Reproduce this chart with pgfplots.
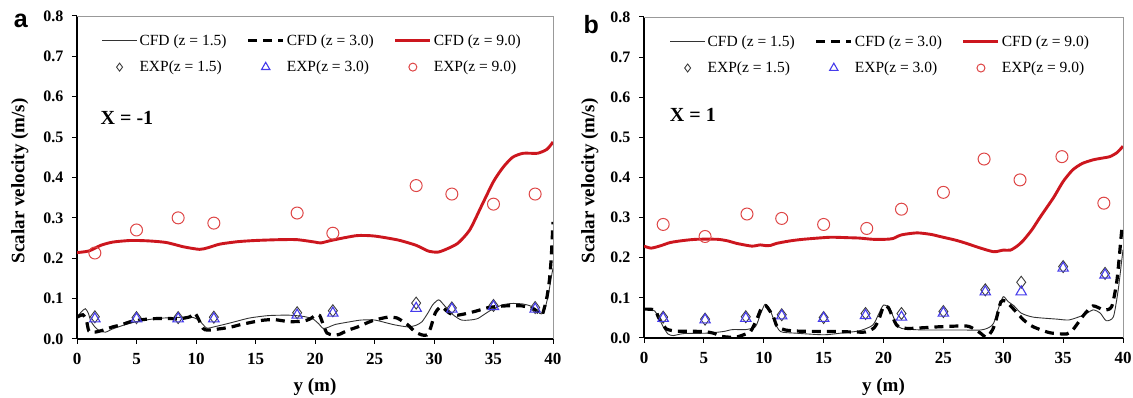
\documentclass[border=0pt]{standalone}
\usepackage{fontspec}
\setmainfont{Liberation Serif}
\newfontfamily\panelfont{Liberation Sans}
\usepackage{pgfplots}
\pgfplotsset{compat=1.18}

\definecolor{redline}{RGB}{204,22,30}
\definecolor{expred}{RGB}{222,70,70}
\definecolor{expblue}{RGB}{70,60,235}
\definecolor{expgray}{RGB}{60,60,60}

\pgfplotsset{
  velstyle/.style={
    scale only axis,
    clip mode=individual,
    xmin=0, xmax=40, ymin=0, ymax=0.8,
    xtick={0,5,10,15,20,25,30,35,40},
    xticklabels={0,5,10,15,20,25,30,35,40},
    ytick={0,0.1,0.2,0.3,0.4,0.5,0.6,0.7,0.8},
    yticklabels={0.0,0.1,0.2,0.3,0.4,0.5,0.6,0.7,0.8},
    axis x line*=bottom, axis y line*=left,
    x axis line style={-, black, line width=1.1pt},
    y axis line style={-, black, line width=1.1pt},
    tick align=outside, major tick length=5pt,
    tick style={black, line width=1pt},
    /pgf/number format/assume math mode=true,
    yticklabel style={font=\fontsize{16}{16}\selectfont\bfseries, xshift=-5pt},
    xticklabel style={font=\fontsize{17}{17}\selectfont\bfseries, yshift=-6pt},
    xlabel={y (m)},
    ylabel={Scalar velocity (m/s)},
    xlabel style={font=\fontsize{19}{19}\selectfont\bfseries, anchor=center},
    ylabel style={font=\fontsize{19}{19}\selectfont\bfseries, anchor=center},
    legend columns=3,
    legend cell align=left,
    legend style={draw=none, fill=none, anchor=north west,
      font=\fontsize{15.5}{15.5}\selectfont,
      row sep=10pt,
      /tikz/every even column/.append style={column sep=18pt}},
  },
  cfdthin/.style={black!80, line width=0.9pt, smooth, tension=0.4,
    legend image code/.code={\draw[##1] (0pt,0pt) -- (35pt,0pt);}},
  cfddash/.style={black, line width=3.2pt, dash pattern=on 9pt off 6pt, smooth, tension=0.4,
    legend image code/.code={\draw[##1] (0pt,0pt) -- (35pt,0pt);}},
  cfdnine/.style={redline, line width=2.9pt, smooth, tension=0.4,
    legend image code/.code={\draw[##1] (0pt,0pt) -- (35pt,0pt);}},
  expdia/.style={only marks, mark=diamond, mark size=6pt, expgray, line width=0.9pt,
    legend image code/.code={\draw[##1, mark size=4pt] plot coordinates {(17.5pt,0pt)};}},
  exptri/.style={only marks, mark=triangle, mark size=6pt, expblue, line width=1.1pt,
    legend image code/.code={\draw[##1, mark size=4.8pt] plot coordinates {(17.5pt,0pt)};}},
  expcirc/.style={only marks, mark=o, mark size=6pt, expred, line width=1pt,
    legend image code/.code={\draw[##1, mark size=4pt] plot coordinates {(17.5pt,0pt)};}},
}

\begin{document}
\begin{tikzpicture}
\useasboundingbox (0pt,0pt) rectangle (1133pt,398pt);

% ---------------- panel a: X = -1 ----------------
\begin{axis}[velstyle,
  at={(77pt,59pt)}, anchor=south west, width=476pt, height=323pt,
  xlabel style={at={(axis description cs:0.5,-0.149)}},
  ylabel style={at={(axis description cs:-0.12,0.49)}},
  legend style={at={(axis description cs:0.045,0.955)}}]
\draw[gray!80, line width=0.9pt] (rel axis cs:0,1) -- (rel axis cs:1,1) -- (rel axis cs:1,0);

\addplot[cfdthin] coordinates {
(0,0.055) (0.4,0.068) (0.7,0.075) (0.95,0.064) (1.15,0.045) (1.5,0.030) (1.9,0.020)
(2.4,0.017) (3.0,0.025) (4.0,0.035) (5.0,0.043) (6.0,0.048) (6.8,0.051) (8.0,0.053)
(9.1,0.054) (9.8,0.053) (10.3,0.045) (10.9,0.027) (11.5,0.030) (12.5,0.037) (13.3,0.043)
(14.5,0.052) (16.1,0.058) (17.8,0.059) (19.0,0.056) (19.8,0.050) (20.3,0.038) (20.7,0.026)
(21.2,0.030) (21.7,0.036) (23.0,0.043) (23.9,0.047) (25.0,0.047) (26.0,0.040) (26.7,0.035)
(27.8,0.030) (28.5,0.034) (29.0,0.043) (29.5,0.065) (29.9,0.085) (30.4,0.097) (30.9,0.082)
(31.6,0.060) (32.3,0.047) (33.0,0.047) (33.7,0.051) (34.7,0.070) (35.7,0.084) (36.5,0.088)
(37.4,0.087) (38.0,0.083) (38.5,0.076) (38.9,0.063) (39.2,0.065) (39.5,0.095) (39.7,0.125)
(39.9,0.160) (40.0,0.175)};
\addlegendentry{CFD (z = 1.5)}

\addplot[cfddash] coordinates {
(0,0.054) (0.5,0.060) (0.8,0.045) (1.0,0.020) (1.5,0.017) (2.2,0.022) (3.0,0.030)
(3.7,0.035) (4.5,0.043) (5.0,0.046) (6.2,0.050) (7.5,0.051) (8.6,0.050) (9.5,0.055)
(9.9,0.064) (10.2,0.050) (10.6,0.026) (11.0,0.022) (12.2,0.026) (13.0,0.030) (13.8,0.036)
(15.5,0.046) (16.6,0.048) (17.8,0.043) (19.0,0.044) (19.6,0.050) (20.1,0.060) (20.4,0.058)
(20.7,0.035) (21.0,0.015) (21.5,0.010) (22.0,0.011) (22.8,0.022) (23.6,0.030) (24.8,0.045)
(26.1,0.054) (26.9,0.052) (27.4,0.043) (27.8,0.035) (28.4,0.018) (29.0,0.010) (29.4,0.010)
(29.7,0.026) (30.1,0.064) (30.6,0.080) (31.3,0.064) (32.0,0.059) (33.4,0.068) (34.6,0.078)
(36.0,0.082) (37.4,0.082) (38.5,0.072) (39.05,0.059) (39.3,0.080) (39.5,0.105) (39.7,0.146)
(39.85,0.200) (40.0,0.290)};
\addlegendentry{CFD (z = 3.0)}

\addplot[cfdnine] coordinates {
(0,0.214) (1,0.218) (2,0.232) (3,0.240) (4.5,0.244) (6,0.243) (7.5,0.239) (9,0.228)
(10.3,0.222) (11,0.226) (12,0.235) (13.5,0.241) (15,0.244) (17,0.246) (18.5,0.246)
(20,0.240) (20.5,0.238) (21.5,0.245) (23.5,0.256) (25,0.255) (27,0.245) (28.5,0.232)
(29.5,0.218) (30.3,0.215) (31,0.222) (32,0.237) (33,0.270) (34,0.330) (35,0.390)
(35.8,0.425) (36.6,0.450) (37.5,0.460) (38.7,0.460) (39.5,0.470) (40,0.488)};
\addlegendentry{CFD (z = 9.0)}

\addplot[expdia] coordinates {
(1.5,0.055) (5,0.053) (8.5,0.053) (11.5,0.054) (18.5,0.065) (21.5,0.070)
(28.5,0.089) (31.5,0.077) (35,0.083) (38.5,0.078)};
\addlegendentry{EXP(z = 1.5)}

\addplot[exptri] coordinates {
(1.5,0.050) (5,0.050) (8.5,0.050) (11.5,0.050) (18.5,0.059) (21.5,0.064)
(28.5,0.076) (31.5,0.074) (35,0.080) (38.5,0.074)};
\addlegendentry{EXP(z = 3.0)}

\addplot[expcirc] coordinates {
(1.5,0.213) (5,0.270) (8.5,0.300) (11.5,0.287) (18.5,0.312) (21.5,0.262)
(28.5,0.380) (31.5,0.359) (35,0.334) (38.5,0.359)};
\addlegendentry{EXP(z = 9.0)}

\node[font=\fontsize{20}{20}\selectfont\bfseries] at (axis description cs:0.105,0.684) {X = -1};
\node[font=\panelfont\fontsize{25}{25}\selectfont\bfseries, inner sep=0pt] at (axis description cs:-0.118,0.985) {a};
\end{axis}

% ---------------- panel b: X = 1 ----------------
\begin{axis}[velstyle,
  at={(644pt,60pt)}, anchor=south west, width=479pt, height=321pt,
  xlabel style={at={(axis description cs:0.5,-0.152)}},
  ylabel style={at={(axis description cs:-0.113,0.49)}},
  legend style={at={(axis description cs:0.047,0.955)}}]
\draw[gray!80, line width=0.9pt] (rel axis cs:0,1) -- (rel axis cs:1,1) -- (rel axis cs:1,0);

\addplot[cfdthin] coordinates {
(0,0.072) (0.5,0.072) (0.9,0.067) (1.2,0.053) (1.6,0.028) (2.0,0.010) (2.45,0.006)
(3.3,0.011) (5.2,0.012) (6.6,0.016) (7.4,0.021) (8.5,0.021) (9.3,0.028) (9.7,0.057)
(10.1,0.084) (10.5,0.072) (10.9,0.041) (11.4,0.016) (12.7,0.012) (15.0,0.008) (16.4,0.012)
(18.0,0.018) (19.1,0.032) (19.6,0.060) (20.0,0.082) (20.5,0.074) (21.0,0.041) (21.5,0.024)
(23.3,0.020) (26.1,0.020) (28.1,0.020) (28.8,0.026) (29.2,0.037) (29.6,0.074) (30.0,0.103)
(30.4,0.091) (30.9,0.080) (31.5,0.062) (32.5,0.052) (34.5,0.047) (35.5,0.045) (36.7,0.057)
(37.5,0.070) (38.1,0.062) (38.6,0.043) (39.2,0.053) (39.6,0.120) (39.9,0.195) (40,0.220)};
\addlegendentry{CFD (z = 1.5)}

\addplot[cfddash] coordinates {
(0,0.072) (0.9,0.070) (1.2,0.052) (1.5,0.037) (1.9,0.022) (2.7,0.017) (3.4,0.017)
(5.0,0.016) (5.8,0.012) (6.5,0.004) (7.2,0.002) (7.8,0.003) (8.5,0.010) (8.9,0.016)
(9.4,0.045) (9.8,0.074) (10.2,0.080) (10.8,0.053) (11.1,0.030) (11.8,0.020) (13.0,0.017)
(16.0,0.016) (17.5,0.015) (18.5,0.015) (19.2,0.025) (19.6,0.045) (20.0,0.078) (20.4,0.076)
(21.1,0.032) (21.9,0.024) (23.0,0.025) (24.7,0.028) (26.9,0.030) (27.6,0.022) (28.1,0.012)
(28.6,0.002) (29.1,0.020) (29.4,0.045) (29.8,0.090) (30.2,0.092) (30.8,0.074) (31.7,0.045)
(32.5,0.028) (33.9,0.013) (35.3,0.010) (35.8,0.020) (36.3,0.040) (36.8,0.060) (37.5,0.080)
(38.4,0.070) (39.05,0.078) (39.5,0.145) (39.9,0.270) (40,0.275)};
\addlegendentry{CFD (z = 3.0)}

\addplot[cfdnine] coordinates {
(0,0.229) (0.6,0.224) (1.4,0.230) (2.2,0.238) (3.3,0.243) (4.4,0.246) (6.1,0.246)
(7.0,0.242) (7.7,0.236) (9.0,0.229) (9.7,0.232) (10.2,0.230) (10.6,0.231) (11.1,0.236)
(12.2,0.242) (13.3,0.246) (15.5,0.251) (17.0,0.250) (18.0,0.249) (19.1,0.246) (20.2,0.246)
(20.8,0.248) (21.5,0.257) (22.8,0.262) (24.0,0.258) (24.7,0.253) (26.0,0.244) (26.9,0.236)
(28.0,0.225) (29.2,0.215) (30.0,0.219) (30.6,0.219) (31.2,0.230) (31.7,0.244) (32.4,0.270)
(33.1,0.302) (34.2,0.350) (35.0,0.390) (35.8,0.419) (36.6,0.435) (37.5,0.444) (38.2,0.448)
(38.9,0.452) (39.5,0.462) (40,0.478)};
\addlegendentry{CFD (z = 9.0)}

\addplot[expdia] coordinates {
(1.6,0.052) (5.1,0.047) (8.5,0.053) (11.5,0.058) (15,0.051) (18.5,0.061) (21.5,0.061)
(25,0.066) (28.5,0.120) (31.5,0.139) (35,0.178) (38.5,0.161)};
\addlegendentry{EXP(z = 1.5)}

\addplot[exptri] coordinates {
(1.6,0.049) (5.1,0.045) (8.5,0.049) (11.5,0.055) (15,0.049) (18.5,0.056) (21.5,0.052)
(25,0.062) (28.5,0.115) (31.5,0.115) (35,0.174) (38.5,0.157)};
\addlegendentry{EXP(z = 3.0)}

\addplot[expcirc] coordinates {
(1.6,0.283) (5.1,0.253) (8.6,0.309) (11.5,0.298) (15,0.283) (18.6,0.273) (21.5,0.321)
(25,0.363) (28.4,0.446) (31.4,0.394) (34.9,0.452) (38.4,0.336)};
\addlegendentry{EXP(z = 9.0)}

\node[font=\fontsize{20}{20}\selectfont\bfseries] at (axis description cs:0.102,0.695) {X = 1};
\node[font=\panelfont\fontsize{25}{25}\selectfont\bfseries, inner sep=0pt] at (axis description cs:-0.11,0.975) {b};
\end{axis}
\end{tikzpicture}
\end{document}
